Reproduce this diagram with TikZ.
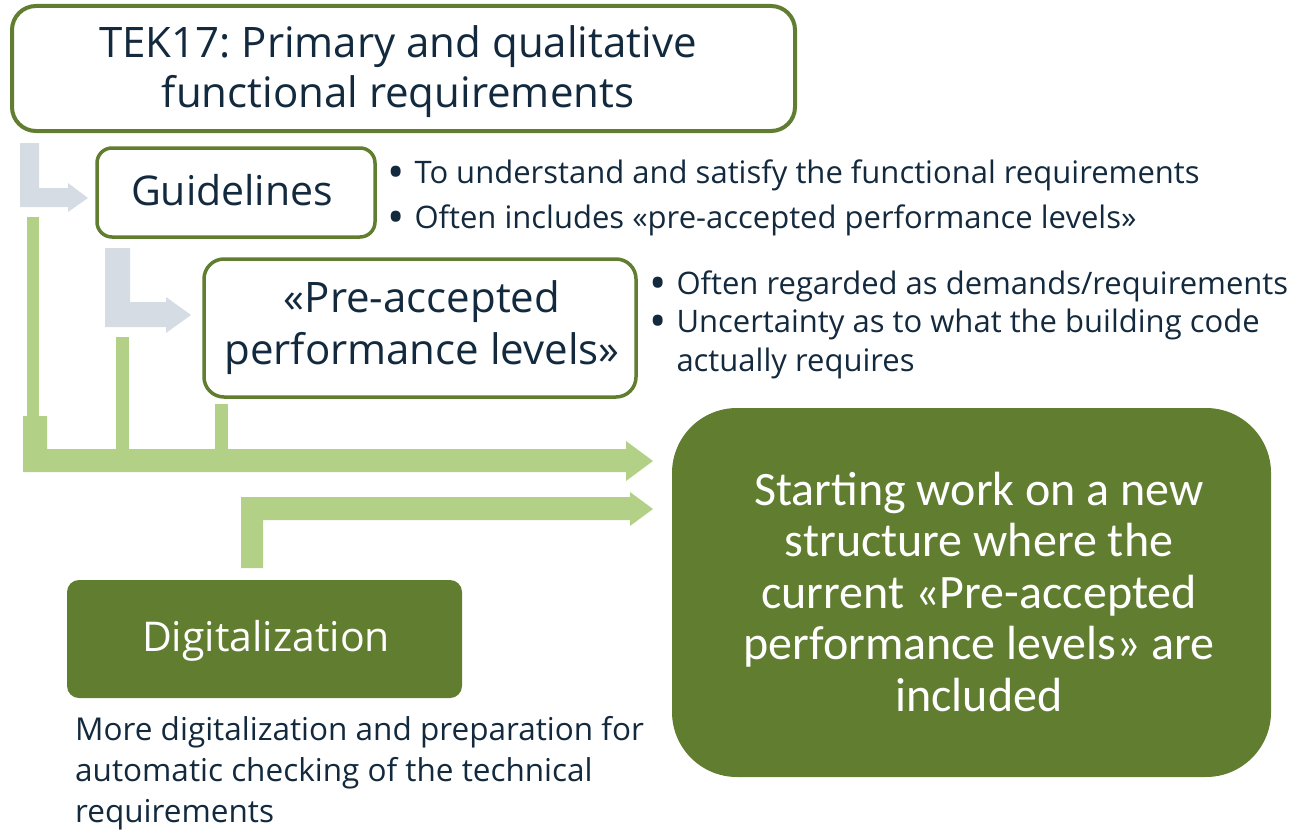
\documentclass[tikz,border=0pt]{standalone}
\usepackage{fontspec}
\setmainfont{Open Sans}
\newfontfamily\boxfont{Carlito}
\usetikzlibrary{positioning}
\frenchspacing

\definecolor{olive}{HTML}{617D30}
\definecolor{lightgreen}{HTML}{B3D186}
\definecolor{lightgray}{HTML}{D6DCE4}
\definecolor{navy}{HTML}{132A3E}

\newcommand{\bigdot}{\raisebox{-5pt}[0pt][0pt]{\fontsize{46}{46}\selectfont•}}

\tikzset{
  framebox/.style={draw=olive, line width=4pt, fill=white, rounded corners=18pt},
  solidbox/.style={fill=olive, text=white},
  bodytext/.style={text=navy, inner sep=0pt}
}

\begin{document}
\begin{tikzpicture}[x=1pt, y=-1pt]
\useasboundingbox (0,0) rectangle (1297,832);

% boxes
\draw[framebox, rounded corners=24pt] (12,6) rectangle (795,131);
\node[bodytext, anchor=base, align=center, font=\fontsize{42}{50}\selectfont] (tek) at (398,108) {TEK17: Primary and qualitative\\functional requirements};

\draw[framebox, line width=3.5pt, rounded corners=15pt] (97,148) rectangle (375,237);
\node[bodytext, font=\fontsize{41}{46}\selectfont] (guide) at (232,190) {Guidelines};

\draw[framebox, line width=3.5pt, rounded corners=20pt] (204,259) rectangle (636,397);
\node[bodytext, align=center, font=\fontsize{42}{52}\selectfont] (preacc) at (422,328) {«Pre-accepted\\performance levels»};

\fill[olive, rounded corners=65pt] (672,408) rectangle (1271,777);
\node[text=white, align=center, font=\boxfont\fontsize{48}{51.5}\selectfont] (newstruct) at (979,592) {Starting work on a new\\structure where the\\current «Pre-accepted\\performance levels» are\\included};

\fill[olive, rounded corners=12pt] (67,580) rectangle (462,698);
\node[text=white, font=\fontsize{41}{44}\selectfont] (digital) at (266,641) {Digitalization};

% bullet texts
\node[bodytext, anchor=base west, font=\fontsize{31}{45}\selectfont] (guidenotes) at (387,183)
  {\begin{tabular}[t]{@{}l@{\hspace{10pt}}l@{}}
   \bigdot & To understand and satisfy the functional requirements\\
   \bigdot & Often includes «pre-accepted performance levels»
   \end{tabular}};
\node[bodytext, anchor=base west, font=\fontsize{31}{38.5}\selectfont] (preaccnotes) at (649,294)
  {\begin{tabular}[t]{@{}l@{\hspace{10pt}}l@{}}
   \bigdot & Often regarded as demands/requirements\\
   \bigdot & Uncertainty as to what the building code\\
     & actually requires
   \end{tabular}};
\node[bodytext, anchor=base west, align=left, font=\fontsize{31.5}{41}\selectfont] (digitalnote) at (75,822)
  {More digitalization and preparation for\\automatic checking of the technical\\requirements};

% gray arrows
\fill[lightgray] (20,143) -- (39,143) -- (39,188) -- (68,188) -- (68,183) -- (88,198)
  -- (68,212) -- (68,207) -- (20,207) -- cycle;
\fill[lightgray] (105,248) -- (130,248) -- (130,302) -- (166,302) -- (166,297) -- (191,315)
  -- (166,333) -- (166,327) -- (105,327) -- cycle;

% green arrows
\fill[lightgreen] (27,217) rectangle (39,416);
\fill[lightgreen] (116,337) rectangle (129,449);
\fill[lightgreen] (215,404) rectangle (228,449);
\fill[lightgreen] (23,416) -- (47,416) -- (47,449) -- (626,449) -- (626,441) -- (653,461)
  -- (626,481) -- (626,472) -- (23,472) -- cycle;
\fill[lightgreen] (241,568) -- (241,497) -- (630,497) -- (630,492) -- (653,509)
  -- (630,526) -- (630,520) -- (263,520) -- (263,568) -- cycle;

\end{tikzpicture}
\end{document}
